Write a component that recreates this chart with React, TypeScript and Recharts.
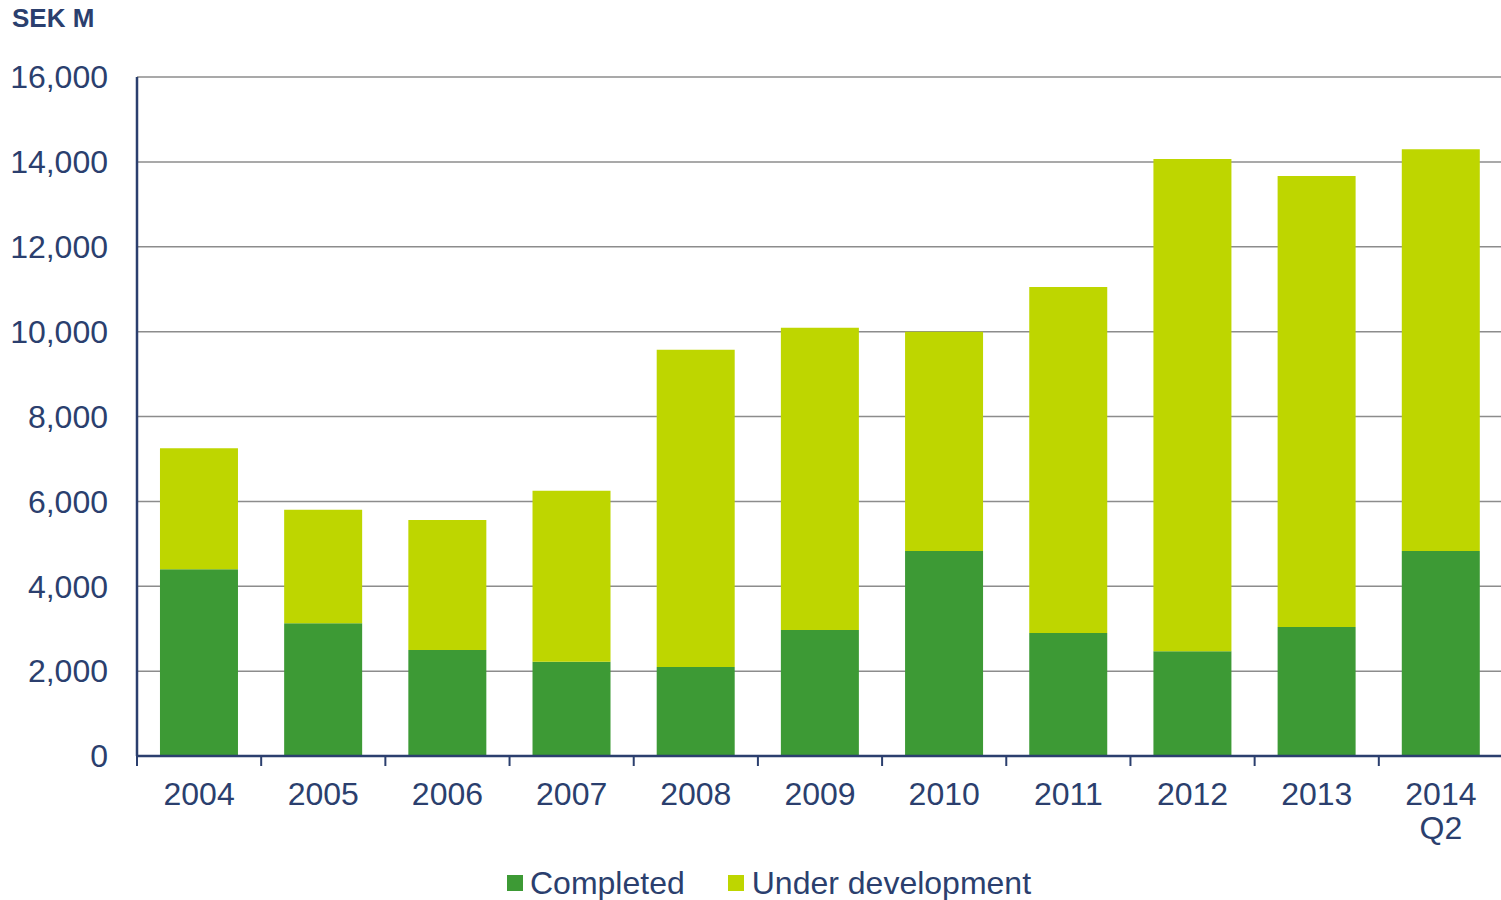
import {
  BarChart,
  Bar,
  XAxis,
  YAxis,
  CartesianGrid,
  Legend,
} from "recharts";

// Kategorier och värden (MSEK)
const years = ["2004", "2005", "2006", "2007", "2008", "2009", "2010", "2011", "2012", "2013", "2014\nQ2"];
const completed = [4400, 3130, 2500, 2220, 2100, 2970, 4830, 2900, 2470, 3040, 4830];
const underDevelopment = [2850, 2670, 3060, 4030, 7470, 7120, 5170, 8150, 11600, 10630, 9470];
const yTicks = [0, 2000, 4000, 6000, 8000, 10000, 12000, 14000, 16000];

const data = years.map((year, i) => ({
  year,
  completed: completed[i],
  underDevelopment: underDevelopment[i],
}));

const NAVY = "#2B3F6E";
const GREEN = "#3D9A35";
const LIME = "#BED600";
const FONT = "'Liberation Sans', Arial, sans-serif";

const W = 1501;
const H = 900;
const PLOT_LEFT = 137;
const RIGHT = -2;
const BAND = (W - RIGHT - PLOT_LEFT) / years.length;

const YearTick = (props: any) => {
  const { x, y, payload, index } = props;
  const lines = String(payload.value).split("\n");
  return (
    <g>
      <line x1={x - BAND / 2} x2={x - BAND / 2} y1={y} y2={y + 10} stroke={NAVY} strokeWidth={2} />
      {index === years.length - 1 && (
        <line x1={x + BAND / 2} x2={x + BAND / 2} y1={y} y2={y + 10} stroke={NAVY} strokeWidth={2} />
      )}
      {lines.map((l, i) => (
        <text
          key={i}
          x={x}
          y={y + 49 + i * 34}
          textAnchor="middle"
          fill={NAVY}
          fontSize={32}
          fontFamily={FONT}
        >
          {l}
        </text>
      ))}
    </g>
  );
};

const LegendBox = () => (
  <div
    style={{
      display: "flex",
      alignItems: "center",
      height: 34,
      paddingLeft: 507,
      fontFamily: FONT,
      fontSize: 32,
      color: NAVY,
    }}
  >
    <span style={{ width: 16, height: 16, background: GREEN, marginRight: 7 }} />
    <span style={{ marginRight: 43 }}>Completed</span>
    <span style={{ width: 16, height: 16, background: LIME, marginRight: 8 }} />
    <span>Under development</span>
  </div>
);

export default function App() {
  return (
    <div style={{ position: "absolute", left: 0, top: 0, width: W, height: H, background: "#fff", overflow: "hidden" }}>
      <div
        style={{
          position: "absolute",
          left: 12,
          top: 3,
          fontFamily: FONT,
          fontWeight: "bold",
          fontSize: 26,
          color: NAVY,
        }}
      >
        SEK M
      </div>
      <BarChart
        width={W}
        height={H}
        data={data}
        margin={{ top: 77, right: RIGHT, bottom: 0, left: 0 }}
        barCategoryGap="18.5%"
      >
        <CartesianGrid vertical={false} stroke="#8c8c8c" strokeWidth={1.5} />
        <XAxis
          dataKey="year"
          height={110}
          interval={0}
          tickLine={false}
          tickSize={0}
          tickMargin={0}
          axisLine={{ stroke: NAVY, strokeWidth: 2.5 }}
          tick={<YearTick />}
        />
        <YAxis
          width={PLOT_LEFT}
          domain={[0, 16000]}
          ticks={yTicks}
          tickLine={false}
          tickSize={0}
          tickMargin={29}
          axisLine={{ stroke: NAVY, strokeWidth: 2.5 }}
          tickFormatter={(v: number) => v.toLocaleString("en-US")}
          tick={{ fill: NAVY, fontSize: 32, fontFamily: FONT }}
        />
        <Legend verticalAlign="bottom" height={34} content={() => <LegendBox />} />
        <Bar dataKey="completed" stackId="a" fill={GREEN} isAnimationActive={false} />
        <Bar dataKey="underDevelopment" stackId="a" fill={LIME} isAnimationActive={false} />
      </BarChart>
    </div>
  );
}
